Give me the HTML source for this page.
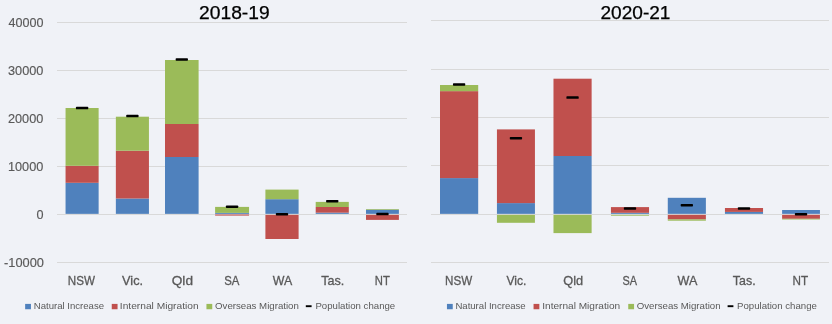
<!DOCTYPE html>
<html><head><meta charset="utf-8"><style>
html,body{margin:0;padding:0;background:#F0F2F7;}
body{width:832px;height:324px;overflow:hidden;}
svg{display:block;font-family:"Liberation Sans",sans-serif;will-change:transform;}
</style></head><body>
<svg width="832" height="324" viewBox="0 0 832 324">
<rect x="0" y="0" width="832" height="324" fill="#F0F2F7"/>
<rect x="57" y="22" width="350" height="1" fill="#D9D9D9"/>
<rect x="57" y="70" width="350" height="1" fill="#D9D9D9"/>
<rect x="57" y="118" width="350" height="1" fill="#D9D9D9"/>
<rect x="57" y="166" width="350" height="1" fill="#D9D9D9"/>
<rect x="57" y="214" width="350" height="1" fill="#D9D9D9"/>
<rect x="57" y="262" width="350" height="1" fill="#D9D9D9"/>
<rect x="65.55" y="182.8" width="33.08" height="31.05" fill="#4F81BD"/>
<rect x="65.55" y="165.8" width="33.08" height="17.00" fill="#C0504D"/>
<rect x="65.55" y="108" width="33.08" height="57.80" fill="#9BBB59"/>
<rect x="75.94" y="106.85" width="12.3" height="2.5" rx="0.7" fill="#000"/>
<rect x="115.86" y="198.5" width="33.08" height="15.35" fill="#4F81BD"/>
<rect x="115.86" y="150.7" width="33.08" height="47.80" fill="#C0504D"/>
<rect x="115.86" y="116.7" width="33.08" height="34.00" fill="#9BBB59"/>
<rect x="126.25" y="114.85" width="12.3" height="2.5" rx="0.7" fill="#000"/>
<rect x="165.00" y="157" width="33.6" height="56.85" fill="#4F81BD"/>
<rect x="165.00" y="124" width="33.6" height="33.00" fill="#C0504D"/>
<rect x="165.00" y="60" width="33.6" height="64.00" fill="#9BBB59"/>
<rect x="175.65" y="58.25" width="12.3" height="2.5" rx="0.7" fill="#000"/>
<rect x="215.10" y="212.9" width="33.95" height="0.95" fill="#4F81BD"/>
<rect x="215.10" y="206.9" width="33.95" height="6.00" fill="#9BBB59"/>
<rect x="215.10" y="214.5" width="33.95" height="1.10" fill="#C0504D"/>
<rect x="225.92" y="205.55" width="12.3" height="2.5" rx="0.7" fill="#000"/>
<rect x="265.40" y="199.2" width="33.2" height="14.65" fill="#4F81BD"/>
<rect x="265.40" y="189.6" width="33.2" height="9.60" fill="#9BBB59"/>
<rect x="265.40" y="214.85" width="33.2" height="24.15" fill="#C0504D"/>
<rect x="275.85" y="212.95" width="12.3" height="2.5" rx="0.7" fill="#000"/>
<rect x="315.70" y="212.65" width="33.1" height="1.20" fill="#4F81BD"/>
<rect x="315.70" y="207" width="33.1" height="5.65" fill="#C0504D"/>
<rect x="315.70" y="201.9" width="33.1" height="5.10" fill="#9BBB59"/>
<rect x="326.10" y="199.95" width="12.3" height="2.5" rx="0.7" fill="#000"/>
<rect x="366.00" y="209.7" width="32.9" height="4.15" fill="#4F81BD"/>
<rect x="366.00" y="209" width="32.9" height="0.70" fill="#9BBB59"/>
<rect x="366.00" y="214.85" width="32.9" height="5.05" fill="#C0504D"/>
<rect x="376.30" y="212.85" width="12.3" height="2.5" rx="0.7" fill="#000"/>
<rect x="431" y="20" width="398" height="1" fill="#D9D9D9"/>
<rect x="431" y="69" width="398" height="1" fill="#D9D9D9"/>
<rect x="431" y="117" width="398" height="1" fill="#D9D9D9"/>
<rect x="431" y="165" width="398" height="1" fill="#D9D9D9"/>
<rect x="431" y="214" width="398" height="1" fill="#D9D9D9"/>
<rect x="431" y="262" width="398" height="1" fill="#D9D9D9"/>
<rect x="440.00" y="178.1" width="38.2" height="35.75" fill="#4F81BD"/>
<rect x="440.00" y="91.15" width="38.2" height="86.95" fill="#C0504D"/>
<rect x="440.00" y="85" width="38.2" height="6.15" fill="#9BBB59"/>
<rect x="452.95" y="83.25" width="12.3" height="2.5" rx="0.7" fill="#000"/>
<rect x="496.94" y="203.1" width="38.0" height="10.75" fill="#4F81BD"/>
<rect x="496.94" y="129.4" width="38.0" height="73.70" fill="#C0504D"/>
<rect x="496.94" y="214.85" width="38.0" height="7.95" fill="#9BBB59"/>
<rect x="509.79" y="136.95" width="12.3" height="2.5" rx="0.7" fill="#000"/>
<rect x="553.48" y="156" width="38.15" height="57.85" fill="#4F81BD"/>
<rect x="553.48" y="78.7" width="38.15" height="77.30" fill="#C0504D"/>
<rect x="553.48" y="214.85" width="38.15" height="18.25" fill="#9BBB59"/>
<rect x="566.41" y="96.35" width="12.3" height="2.5" rx="0.7" fill="#000"/>
<rect x="610.94" y="212.8" width="38.1" height="1.05" fill="#4F81BD"/>
<rect x="610.94" y="207.1" width="38.1" height="5.70" fill="#C0504D"/>
<rect x="610.94" y="214.85" width="38.1" height="0.85" fill="#9BBB59"/>
<rect x="623.84" y="207.25" width="12.3" height="2.5" rx="0.7" fill="#000"/>
<rect x="667.78" y="197.8" width="38.1" height="16.05" fill="#4F81BD"/>
<rect x="667.78" y="214.85" width="38.1" height="4.55" fill="#C0504D"/>
<rect x="667.78" y="219.4" width="38.1" height="1.30" fill="#9BBB59"/>
<rect x="680.68" y="204.05" width="12.3" height="2.5" rx="0.7" fill="#000"/>
<rect x="724.94" y="211.9" width="38.1" height="1.95" fill="#4F81BD"/>
<rect x="724.94" y="208" width="38.1" height="3.90" fill="#C0504D"/>
<rect x="737.84" y="207.15" width="12.3" height="2.5" rx="0.7" fill="#000"/>
<rect x="782.10" y="210.0" width="37.84" height="3.85" fill="#4F81BD"/>
<rect x="782.10" y="214.85" width="37.84" height="3.95" fill="#C0504D"/>
<rect x="782.10" y="218.8" width="37.84" height="0.70" fill="#9BBB59"/>
<rect x="794.87" y="213.05" width="12.3" height="2.5" rx="0.7" fill="#000"/>
<rect x="25.15" y="303.9" width="5.8" height="5.35" fill="#4F81BD"/>
<rect x="111.75" y="303.9" width="5.8" height="5.35" fill="#C0504D"/>
<rect x="206.45" y="303.9" width="5.8" height="5.35" fill="#9BBB59"/>
<rect x="305.80" y="305.25" width="5.8" height="1.9" fill="#000"/>
<rect x="446.95" y="303.9" width="5.8" height="5.35" fill="#4F81BD"/>
<rect x="533.55" y="303.9" width="5.8" height="5.35" fill="#C0504D"/>
<rect x="628.25" y="303.9" width="5.8" height="5.35" fill="#9BBB59"/>
<rect x="727.60" y="305.25" width="5.8" height="1.9" fill="#000"/>
<text x="8.49" y="26.7" font-size="13" fill="#595959" stroke="#595959" stroke-width="0.15" textLength="34.91" lengthAdjust="spacingAndGlyphs">40000</text>
<text x="8.05" y="74.7" font-size="13" fill="#595959" stroke="#595959" stroke-width="0.15" textLength="35.35" lengthAdjust="spacingAndGlyphs">30000</text>
<text x="7.94" y="122.7" font-size="13" fill="#595959" stroke="#595959" stroke-width="0.15" textLength="35.35" lengthAdjust="spacingAndGlyphs">20000</text>
<text x="7.94" y="170.7" font-size="13" fill="#595959" stroke="#595959" stroke-width="0.15" textLength="35.35" lengthAdjust="spacingAndGlyphs">10000</text>
<text x="36.53" y="218.7" font-size="13" fill="#595959" stroke="#595959" stroke-width="0.15" textLength="7.02" lengthAdjust="spacingAndGlyphs">0</text>
<text x="4.01" y="266.7" font-size="13" fill="#595959" stroke="#595959" stroke-width="0.15" textLength="39.91" lengthAdjust="spacingAndGlyphs">-10000</text>
<text x="67.79" y="285" font-size="12.7" fill="#595959" stroke="#595959" stroke-width="0.3" textLength="27.13" lengthAdjust="spacingAndGlyphs">NSW</text>
<text x="122.12" y="285" font-size="12.7" fill="#595959" stroke="#595959" stroke-width="0.3" textLength="20.98" lengthAdjust="spacingAndGlyphs">Vic.</text>
<text x="171.79" y="285" font-size="12.7" fill="#595959" stroke="#595959" stroke-width="0.3" textLength="21.20" lengthAdjust="spacingAndGlyphs">Qld</text>
<text x="224.20" y="285" font-size="12.7" fill="#595959" stroke="#595959" stroke-width="0.3" textLength="15.20" lengthAdjust="spacingAndGlyphs">SA</text>
<text x="272.86" y="285" font-size="12.7" fill="#595959" stroke="#595959" stroke-width="0.3" textLength="19.47" lengthAdjust="spacingAndGlyphs">WA</text>
<text x="321.27" y="285" font-size="12.7" fill="#595959" stroke="#595959" stroke-width="0.3" textLength="23.09" lengthAdjust="spacingAndGlyphs">Tas.</text>
<text x="374.79" y="285" font-size="12.7" fill="#595959" stroke="#595959" stroke-width="0.3" textLength="15.02" lengthAdjust="spacingAndGlyphs">NT</text>
<text x="445.05" y="285" font-size="12.7" fill="#595959" stroke="#595959" stroke-width="0.3" textLength="27.13" lengthAdjust="spacingAndGlyphs">NSW</text>
<text x="506.38" y="285" font-size="12.7" fill="#595959" stroke="#595959" stroke-width="0.3" textLength="19.98" lengthAdjust="spacingAndGlyphs">Vic.</text>
<text x="563.27" y="285" font-size="12.7" fill="#595959" stroke="#595959" stroke-width="0.3" textLength="19.87" lengthAdjust="spacingAndGlyphs">Qld</text>
<text x="622.42" y="285" font-size="12.7" fill="#595959" stroke="#595959" stroke-width="0.3" textLength="14.50" lengthAdjust="spacingAndGlyphs">SA</text>
<text x="677.49" y="285" font-size="12.7" fill="#595959" stroke="#595959" stroke-width="0.3" textLength="19.80" lengthAdjust="spacingAndGlyphs">WA</text>
<text x="732.86" y="285" font-size="12.7" fill="#595959" stroke="#595959" stroke-width="0.3" textLength="22.76" lengthAdjust="spacingAndGlyphs">Tas.</text>
<text x="792.46" y="285" font-size="12.7" fill="#595959" stroke="#595959" stroke-width="0.3" textLength="15.61" lengthAdjust="spacingAndGlyphs">NT</text>
<text x="199.05" y="19.15" font-size="18" fill="#000000" stroke="#000000" stroke-width="0.25" textLength="70.57" lengthAdjust="spacingAndGlyphs">2018-19</text>
<text x="600.42" y="19.15" font-size="18" fill="#000000" stroke="#000000" stroke-width="0.25" textLength="70.09" lengthAdjust="spacingAndGlyphs">2020-21</text>
<text x="33.72" y="309.3" font-size="9.8" fill="#595959" stroke="#595959" stroke-width="0.0" textLength="70.34" lengthAdjust="spacingAndGlyphs">Natural Increase</text>
<text x="119.86" y="309.3" font-size="9.8" fill="#595959" stroke="#595959" stroke-width="0.0" textLength="78.70" lengthAdjust="spacingAndGlyphs">Internal Migration</text>
<text x="215.06" y="309.3" font-size="9.8" fill="#595959" stroke="#595959" stroke-width="0.0" textLength="83.84" lengthAdjust="spacingAndGlyphs">Overseas Migration</text>
<text x="315.40" y="309.3" font-size="9.8" fill="#595959" stroke="#595959" stroke-width="0.0" textLength="79.82" lengthAdjust="spacingAndGlyphs">Population change</text>
<text x="455.38" y="309.3" font-size="9.8" fill="#595959" stroke="#595959" stroke-width="0.0" textLength="70.34" lengthAdjust="spacingAndGlyphs">Natural Increase</text>
<text x="542.22" y="309.3" font-size="9.8" fill="#595959" stroke="#595959" stroke-width="0.0" textLength="78.00" lengthAdjust="spacingAndGlyphs">Internal Migration</text>
<text x="636.72" y="309.3" font-size="9.8" fill="#595959" stroke="#595959" stroke-width="0.0" textLength="83.84" lengthAdjust="spacingAndGlyphs">Overseas Migration</text>
<text x="737.06" y="309.3" font-size="9.8" fill="#595959" stroke="#595959" stroke-width="0.0" textLength="79.82" lengthAdjust="spacingAndGlyphs">Population change</text>
</svg>
</body></html>
